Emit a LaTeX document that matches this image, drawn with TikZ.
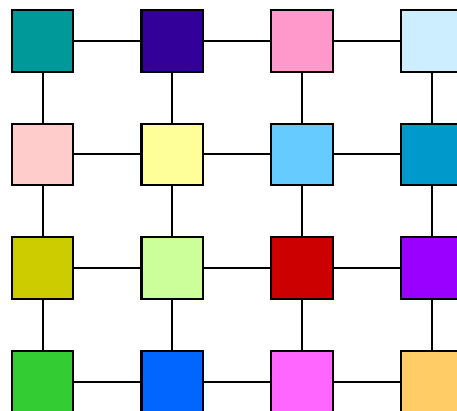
\documentclass[tikz,border=0pt]{standalone}
\definecolor{cA}{HTML}{009999}\definecolor{cB}{HTML}{330099}\definecolor{cC}{HTML}{FF99CC}\definecolor{cD}{HTML}{CCEEFF}
\definecolor{cE}{HTML}{FFCCCC}\definecolor{cF}{HTML}{FFFF99}\definecolor{cG}{HTML}{66CCFF}\definecolor{cH}{HTML}{0099CC}
\definecolor{cI}{HTML}{CCCC00}\definecolor{cJ}{HTML}{CCFF99}\definecolor{cK}{HTML}{CC0000}\definecolor{cL}{HTML}{9900FF}
\definecolor{cM}{HTML}{33CC33}\definecolor{cN}{HTML}{0066FF}\definecolor{cO}{HTML}{FF66FF}\definecolor{cP}{HTML}{FFCC66}
\begin{document}
\begin{tikzpicture}[x=1pt,y=-1pt,line width=2pt,box/.style={draw,line width=2.2pt,minimum size=61.5pt,inner sep=0pt}]
\useasboundingbox(0,0)rectangle(457,411);
\foreach\c/\r/\col in{1/1/cA,2/1/cB,3/1/cC,4/1/cD,1/2/cE,2/2/cF,3/2/cG,4/2/cH,1/3/cI,2/3/cJ,3/3/cK,4/3/cL,1/4/cM,2/4/cN,3/4/cO,4/4/cP}{\node[box,fill=\col](n\c\r)at({42.5+129.7*(\c-1)},{41+113.5*(\r-1)}){};}
\foreach\a/\b in{1/2,2/3,3/4}{\foreach\r in{1,...,4}{\draw(n\a\r)--(n\b\r) (n\r\a)--(n\r\b);}}
\end{tikzpicture}
\end{document}
